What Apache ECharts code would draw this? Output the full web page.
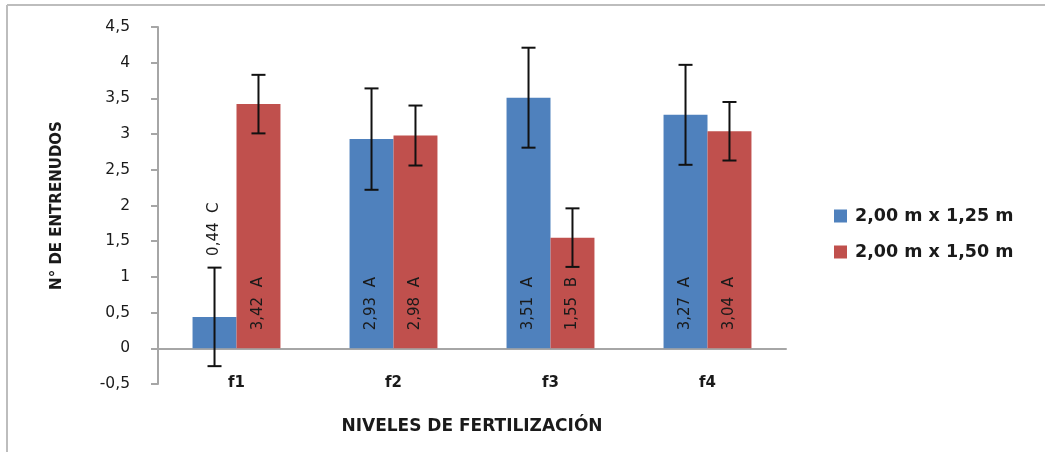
<!DOCTYPE html>
<html>
<head>
<meta charset="utf-8">
<script src="https://cdn.jsdelivr.net/npm/echarts@6/dist/echarts.min.js"></script>
<style>html,body{margin:0;padding:0;background:#fff}#c{width:1045px;height:452px}</style>
</head>
<body>
<div id="c"></div>
<script>
const categories = ['f1', 'f2', 'f3', 'f4'];
const seriesNames = ['2,00 m x 1,25 m', '2,00 m x 1,50 m'];
const valuesA = [0.44, 2.93, 3.51, 3.27];
const valuesB = [3.42, 2.98, 1.55, 3.04];
const errorA = [0.69, 0.71, 0.70, 0.70];
const errorB = [0.41, 0.42, 0.41, 0.41];
const lettersA = ['C', 'A', 'A', 'A'];
const lettersB = ['A', 'A', 'B', 'A'];
const yTicks = { min: -0.5, max: 4.5, step: 0.5 };

const FONT = 'DejaVu Sans';
const fmt = v => v.toFixed(2).replace('.', ',');

const labelBase = {
  show: true, rotate: 90, position: 'insideBottom', align: 'left', verticalAlign: 'middle',
  distance: 18, color: '#1a1a1a', fontFamily: FONT, fontSize: 15
};

function barData(vals, letters, idx) {
  return vals.map((v, i) => {
    const item = { value: v, label: { formatter: fmt(v) + '  ' + letters[i] } };
    if (idx === 0 && i === 0) {
      item.label.position = 'top';
      item.label.distance = 61;
    }
    return item;
  });
}

function errData(vals, errs) {
  return vals.map((v, i) => [i, v - errs[i], v + errs[i]]);
}

function errRender(side) {
  return function (params, api) {
    const band = api.size([1, 0])[0];
    const barW = band * 0.56 / 2;
    const off = side * barW / 2;
    const lo = api.coord([api.value(0), api.value(1)]);
    const hi = api.coord([api.value(0), api.value(2)]);
    const x = lo[0] + off;
    const cap = 7;
    const st = { stroke: '#111', lineWidth: 2 };
    return {
      type: 'group',
      children: [
        { type: 'line', shape: { x1: x, y1: lo[1], x2: x, y2: hi[1] }, style: st },
        { type: 'line', shape: { x1: x - cap, y1: lo[1], x2: x + cap, y2: lo[1] }, style: st },
        { type: 'line', shape: { x1: x - cap, y1: hi[1], x2: x + cap, y2: hi[1] }, style: st }
      ]
    };
  };
}

const chart = echarts.init(document.getElementById('c'), null, { renderer: 'canvas' });
chart.setOption({
  animation: false,
  backgroundColor: '#fff',
  graphic: [
    { type: 'line', shape: { x1: 7, y1: 5, x2: 1045, y2: 5 }, style: { stroke: '#bdbdbd', lineWidth: 2 } },
    { type: 'line', shape: { x1: 7, y1: 5, x2: 7, y2: 452 }, style: { stroke: '#bdbdbd', lineWidth: 2 } }
  ],
  grid: { left: 158, right: 259, top: 27, bottom: 68, containLabel: false, outerBoundsMode: 'none' },
  legend: {
    orient: 'vertical', left: 829, top: 200, itemWidth: 13, itemHeight: 13, itemGap: 14,
    icon: 'rect',
    textStyle: { fontFamily: FONT, fontWeight: 'bold', fontSize: 17.5, color: '#1a1a1a', lineHeight: 22, padding: [0, 0, 0, 3] },
    data: seriesNames
  },
  xAxis: {
    type: 'category', data: categories,
    axisLine: { onZero: true, lineStyle: { color: '#a6a6a6', width: 2 } },
    axisTick: { show: false },
    axisLabel: { margin: -8, fontFamily: FONT, fontWeight: 'bold', fontSize: 15, color: '#1a1a1a' },
    name: 'NIVELES DE FERTILIZACIÓN', nameLocation: 'middle', nameGap: 34,
    nameTextStyle: { fontFamily: FONT, fontWeight: 'bold', fontSize: 17, color: '#1a1a1a' }
  },
  yAxis: {
    type: 'value', min: yTicks.min, max: yTicks.max, interval: yTicks.step,
    splitLine: { show: false },
    axisLine: { show: true, lineStyle: { color: '#a6a6a6', width: 2 } },
    axisTick: { show: true, inside: false, length: 7, lineStyle: { color: '#a6a6a6', width: 2 } },
    axisLabel: { margin: 28, fontFamily: FONT, fontSize: 15.5, color: '#1a1a1a', formatter: v => String(v).replace('.', ',') },
    name: 'N° DE ENTRENUDOS', nameLocation: 'middle', nameGap: 93,
    nameTextStyle: { fontFamily: FONT, fontWeight: 'bold', fontSize: 15, color: '#1a1a1a' }
  },
  series: [
    { name: seriesNames[0], type: 'bar', barGap: '0%', barCategoryGap: '44%',
      itemStyle: { color: '#4F81BD' }, label: labelBase, data: barData(valuesA, lettersA, 0), z: 2 },
    { name: seriesNames[1], type: 'bar', barGap: '0%', barCategoryGap: '44%',
      itemStyle: { color: '#C0504D' }, label: labelBase, data: barData(valuesB, lettersB, 1), z: 2 },
    { type: 'custom', renderItem: errRender(-1), data: errData(valuesA, errorA), encode: { x: 0, y: [1, 2] }, z: 5, silent: true },
    { type: 'custom', renderItem: errRender(1), data: errData(valuesB, errorB), encode: { x: 0, y: [1, 2] }, z: 5, silent: true }
  ]
});
</script>
</body>
</html>
